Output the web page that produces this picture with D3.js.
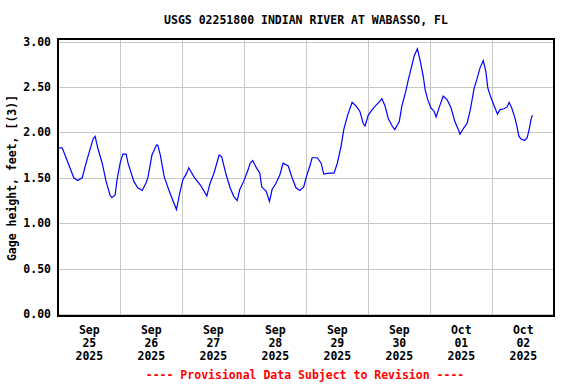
<!DOCTYPE html>
<html>
<head>
<meta charset="utf-8">
<script src="https://cdn.jsdelivr.net/npm/d3@7"></script>
<style>
    body { margin: 0; background: #fff; }
    text { font-family: "DejaVu Sans Mono", monospace; font-weight: bold; font-size: 11.5px; }
</style>
</head>
<body>
<div id="chart"></div>
<script>
// Données (heures depuis le 25 sept. 00:00, hauteur en pieds)
const startDate = new Date(2025, 8, 25);
const hours = [0, 1.5, 3, 4.5, 6, 7.5, 9.25, 10.75, 12.25, 13.5, 14.25, 15.25, 17, 18.5, 20, 20.75, 22, 22.75, 24, 25,
    26.25, 27, 29.25, 30.75, 32.5, 34, 34.75, 36.25, 38, 38.5, 39.5, 41, 43.25, 45.75, 47, 48.25, 49.5, 50.5, 52.5, 55,
    57.5, 58.75, 60.25, 62.25, 63.25, 65, 66.5, 68, 69.25, 70.25, 71.75, 73.5, 74.25, 75.25, 76.5, 78, 78.75, 80.5, 81.75, 82.75,
    84.25, 85.75, 87, 89, 90.5, 92, 93.5, 95, 96, 97.5, 98.25, 100.25, 101.75, 102.75, 104.75, 106.75, 108, 109.5, 110.5, 112,
    113.75, 115.25, 116.75, 118, 118.75, 120, 121.5, 123, 124.5, 125.25, 126.5, 127.75, 129.25, 130.25, 132, 133, 134.5, 135.5, 137, 137.75,
    139, 140, 141.25, 142, 143, 144.25, 145.5, 146.25, 147.75, 149, 150.5, 152, 153.5, 155, 155.5, 157, 158.25, 159.5, 161, 162,
    163.25, 164.5, 165.5, 166.25, 167.5, 168.75, 170, 171, 172.5, 173.75, 174.5, 175.5, 176.75, 177.5, 178.25, 179, 180.5, 181.5, 182.25, 183,
    183.5];
const gageHeight = [1.83, 1.83, 1.72, 1.61, 1.50, 1.47, 1.50, 1.66, 1.81, 1.93, 1.955, 1.83, 1.66, 1.46, 1.31, 1.28, 1.31, 1.48, 1.67, 1.76,
    1.76, 1.66, 1.46, 1.39, 1.36, 1.445, 1.51, 1.75, 1.86, 1.86, 1.75, 1.51, 1.33, 1.15, 1.33, 1.48, 1.54, 1.61, 1.51, 1.42,
    1.30, 1.44, 1.55, 1.75, 1.73, 1.53, 1.39, 1.29, 1.25, 1.37, 1.46, 1.59, 1.66, 1.69, 1.62, 1.55, 1.40, 1.35, 1.24, 1.37,
    1.44, 1.53, 1.66, 1.63, 1.50, 1.39, 1.36, 1.40, 1.51, 1.64, 1.72, 1.72, 1.66, 1.54, 1.55, 1.55, 1.66, 1.85, 2.03, 2.19,
    2.33, 2.29, 2.23, 2.10, 2.07, 2.19, 2.25, 2.30, 2.34, 2.37, 2.29, 2.15, 2.07, 2.03, 2.12, 2.29, 2.45, 2.58, 2.75, 2.84,
    2.92, 2.80, 2.62, 2.47, 2.36, 2.27, 2.23, 2.17, 2.30, 2.40, 2.36, 2.27, 2.12, 2.02, 1.98, 2.05, 2.10, 2.25, 2.49, 2.58,
    2.71, 2.79, 2.67, 2.49, 2.38, 2.29, 2.20, 2.25, 2.26, 2.28, 2.33, 2.27, 2.16, 2.07, 1.96, 1.93, 1.91, 1.94, 2.03, 2.14,
    2.19];
const yTicks = [0, 0.5, 1, 1.5, 2, 2.5, 3];
const dayLabels = [["Sep", "25", "2025"], ["Sep", "26", "2025"], ["Sep", "27", "2025"], ["Sep", "28", "2025"],
    ["Sep", "29", "2025"], ["Sep", "30", "2025"], ["Oct", "01", "2025"], ["Oct", "02", "2025"]];

window.onload = function () {
    let width = 576;
    let height = 384;
    let svg = d3.select('#chart')
        .append('svg')
        .attr('width', width)
        .attr('height', height);

    let left = 58.3, right = 554.3, top = 39, bottom = 316;

    let x = d3.scaleTime()
        .domain([startDate, d3.timeDay.offset(startDate, 8)])
        .range([left, right]);
    let y = d3.scaleLinear()
        .domain([0, 3])
        .range([314, 41.5]);

    let data = hours.map((h, i) => ({ date: new Date(startDate.getTime() + h * 3600000), value: gageHeight[i] }));

    // Grille
    let days = d3.timeDay.range(d3.timeDay.offset(startDate, 1), d3.timeDay.offset(startDate, 8));
    svg.append('g').selectAll('line')
        .data(days)
        .enter()
        .append('line')
        .attr('x1', d => Math.round(x(d)) + 0.5)
        .attr('x2', d => Math.round(x(d)) + 0.5)
        .attr('y1', top)
        .attr('y2', bottom)
        .attr('stroke', '#c8c8c8');
    svg.append('g').selectAll('line')
        .data(yTicks)
        .enter()
        .append('line')
        .attr('x1', left)
        .attr('x2', right)
        .attr('y1', d => Math.round(y(d)) + 0.5)
        .attr('y2', d => Math.round(y(d)) + 0.5)
        .attr('stroke', '#c8c8c8');

    // Courbe
    let line = d3.line()
        .x(d => x(d.date))
        .y(d => y(d.value));
    svg.append('path')
        .datum(data)
        .attr('d', line)
        .attr('fill', 'none')
        .attr('stroke', '#0000ff')
        .attr('stroke-width', 1.2);

    // Cadre
    svg.append('rect')
        .attr('x', 58)
        .attr('y', top)
        .attr('width', 496)
        .attr('height', bottom - top)
        .attr('fill', 'none')
        .attr('stroke', '#000')
        .attr('stroke-width', 2);

    // Étiquettes de l'axe Y
    svg.append('g').selectAll('text')
        .data(yTicks)
        .enter()
        .append('text')
        .attr('x', 51)
        .attr('y', d => y(d) + 4)
        .attr('text-anchor', 'end')
        .text(d => d.toFixed(2));

    // Étiquettes de l'axe X (à midi)
    let labels = svg.append('g').selectAll('text')
        .data(dayLabels)
        .enter()
        .append('text')
        .attr('text-anchor', 'middle')
        .attr('transform', (d, i) => 'translate(' + x(d3.timeHour.offset(startDate, i * 24 + 12)) + ',334)');
    labels.selectAll('tspan')
        .data(d => d)
        .enter()
        .append('tspan')
        .attr('x', 0)
        .attr('dy', (d, i) => i === 0 ? 0 : 13)
        .text(d => d);

    svg.append('text')
        .attr('x', 306)
        .attr('y', 24)
        .attr('text-anchor', 'middle')
        .text('USGS 02251800 INDIAN RIVER AT WABASSO, FL');

    svg.append('text')
        .attr('transform', 'translate(16,178) rotate(-90)')
        .attr('text-anchor', 'middle')
        .text('Gage height, feet, [(3)]');

    svg.append('text')
        .attr('x', 305)
        .attr('y', 379)
        .attr('text-anchor', 'middle')
        .attr('fill', '#ff0000')
        .text('---- Provisional Data Subject to Revision ----');
}
</script>
</body>
</html>
